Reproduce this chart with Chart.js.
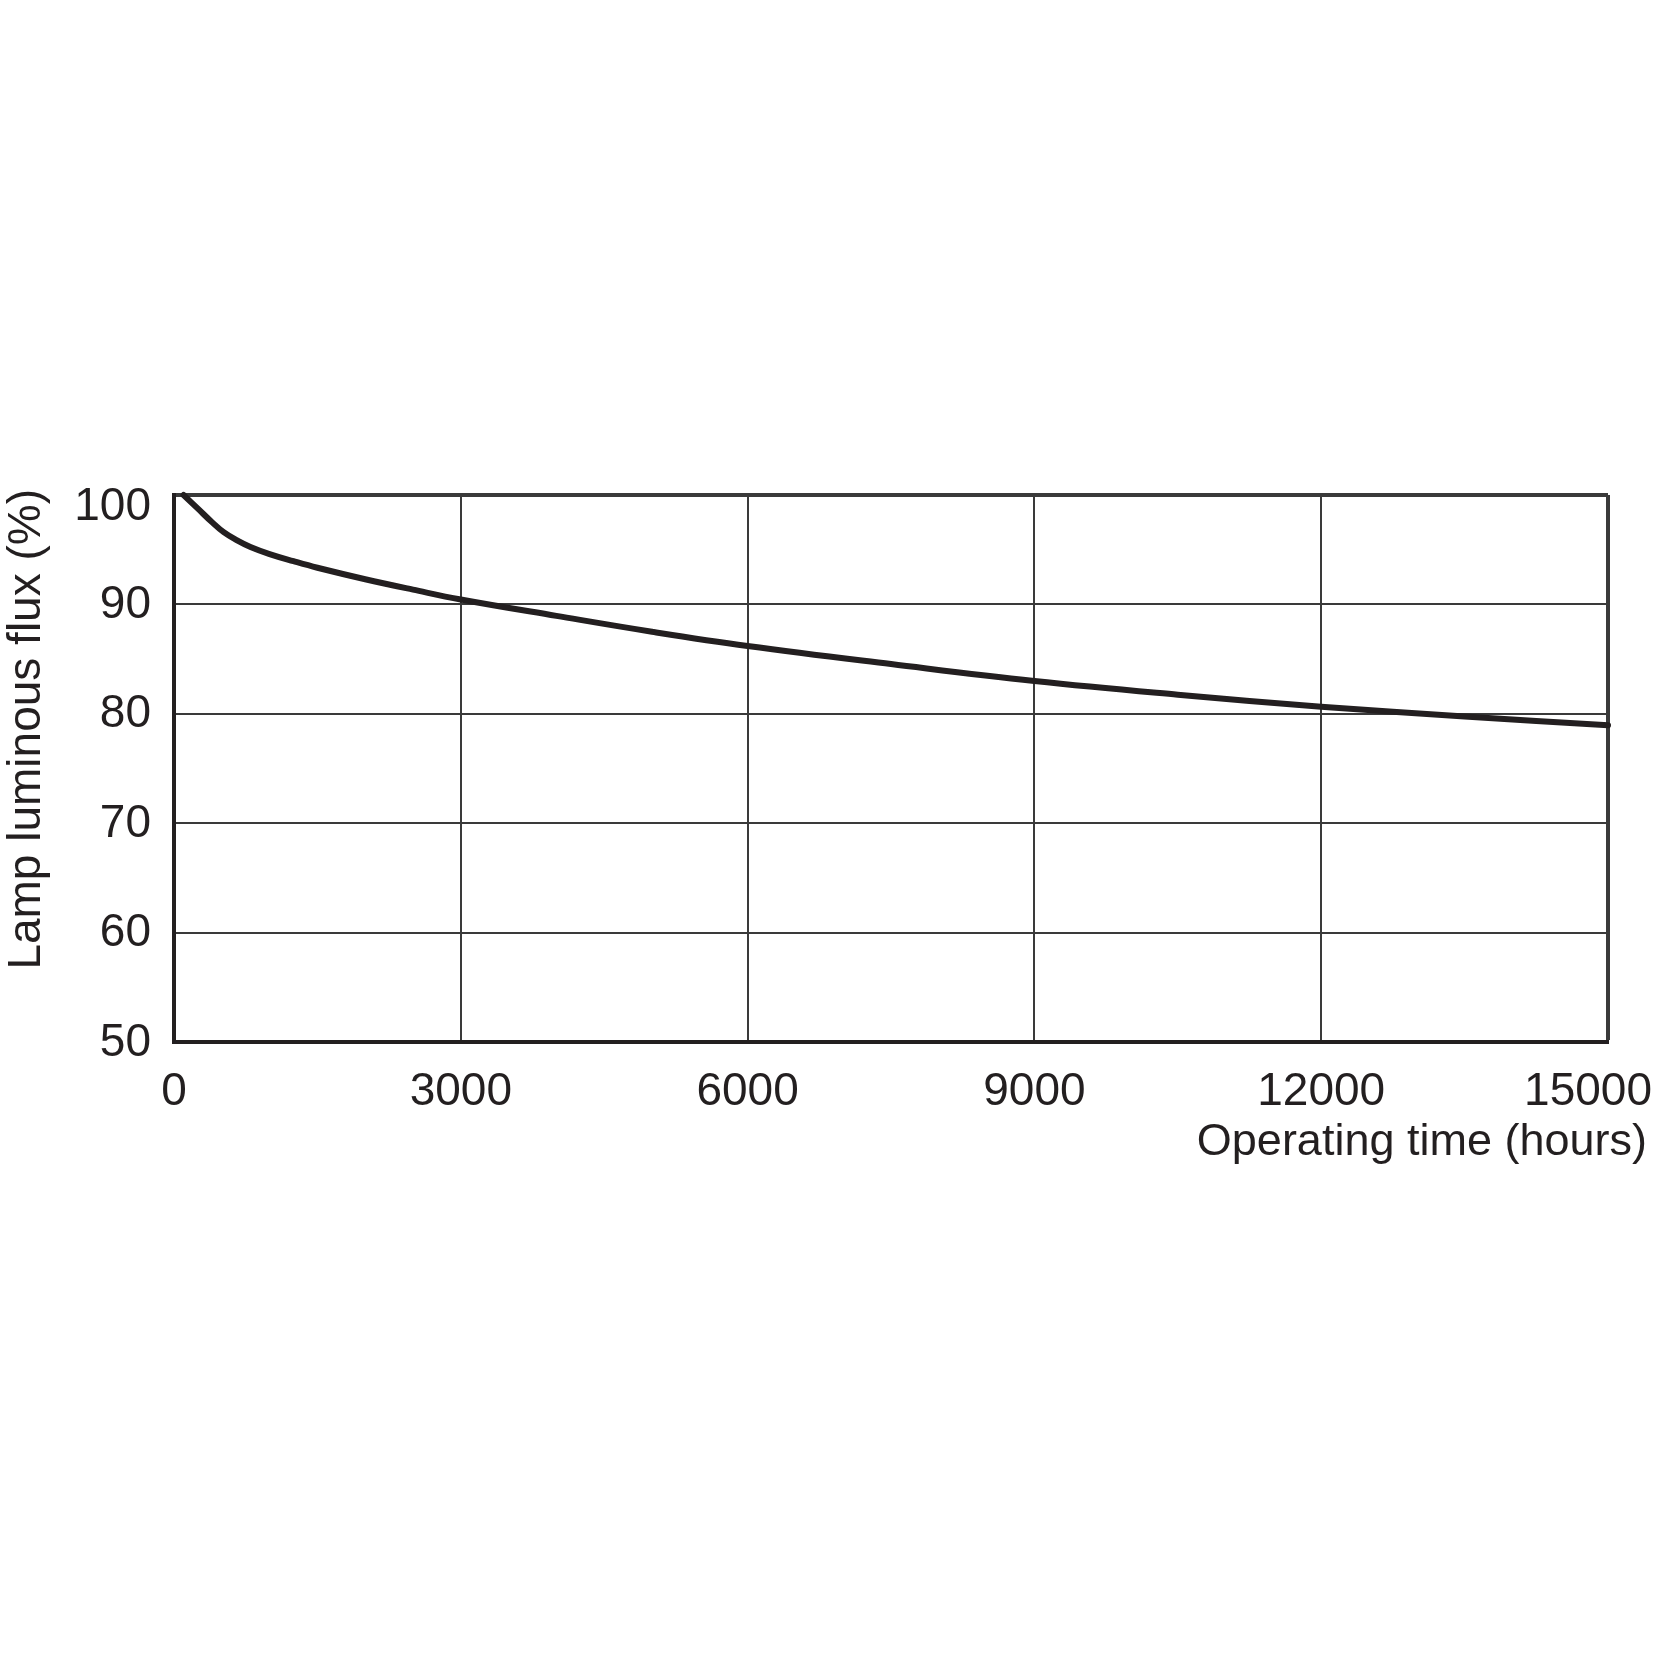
<!DOCTYPE html>
<html><head><meta charset="utf-8">
<script src="https://cdn.jsdelivr.net/npm/chart.js@4.4.1/dist/chart.umd.min.js"></script>
<style>html,body{margin:0;padding:0;background:#fff;} canvas{display:block;}</style>
</head><body>
<canvas id="c" width="1656" height="1656"></canvas>
<script>
// ---- data ----
const hours = [100, 250, 400, 520, 650, 800, 1000, 1250, 1500, 2000, 2500, 3000, 4000, 5000, 6000, 7500, 9000, 10500, 12000, 13500, 15000];
const flux  = [100, 98.75, 97.5, 96.6, 95.9, 95.25, 94.6, 93.95, 93.35, 92.3, 91.35, 90.45, 88.95, 87.5, 86.2, 84.55, 83.0, 81.75, 80.65, 79.75, 78.95];
const xTicks = [0, 3000, 6000, 9000, 12000, 15000];
const yTicks = [50, 60, 70, 80, 90, 100];
const xTitle = 'Operating time (hours)';
const yTitle = 'Lamp luminous flux (%)';

const TEXT = '#231f20';
const GRID = '#3a3a3a';
const FONT = '"Liberation Sans", Arial, Helvetica, sans-serif';

const labelPlugin = {
  id: 'axisLabels',
  afterDraw(chart) {
    const {ctx, chartArea} = chart;
    const x = chart.scales.x, y = chart.scales.y;
    ctx.save();
    ctx.fillStyle = TEXT;
    ctx.font = '46px ' + FONT;
    // x tick labels
    ctx.textBaseline = 'alphabetic';
    ctx.textAlign = 'left';
    xTicks.forEach(v => {
      const label = String(v);
      const w = ctx.measureText(label).width;
      let left = x.getPixelForValue(v) - w / 2;
      left = Math.min(left, chart.width - 4 - w);
      ctx.fillText(label, left, chartArea.bottom + 63);
    });
    // y tick labels
    ctx.textAlign = 'right';
    ctx.textBaseline = 'middle';
    yTicks.forEach(v => {
      const cy = Math.max(y.getPixelForValue(v) + 1, chartArea.top + 12);
      ctx.fillText(String(v), chartArea.left - 23, cy);
    });
    // x title
    ctx.textBaseline = 'alphabetic';
    ctx.font = '45px ' + FONT;
    ctx.fillText(xTitle, chart.width - 9, chartArea.bottom + 113);
    // y title (rotated, ending just above the plot top)
    ctx.font = '46px ' + FONT;
    ctx.translate(27, chartArea.top - 6);
    ctx.rotate(-Math.PI / 2);
    ctx.textAlign = 'right';
    ctx.textBaseline = 'middle';
    ctx.fillText(yTitle, 0, 0);
    ctx.restore();
  }
};

new Chart(document.getElementById('c'), {
  type: 'line',
  data: {
    datasets: [{
      data: hours.map((h, i) => ({x: h, y: flux[i]})),
      borderColor: TEXT,
      borderWidth: 6,
      pointRadius: 0,
      fill: false,
      tension: 0.4,
      borderCapStyle: 'round',
      borderJoinStyle: 'round',
      clip: 6
    }]
  },
  options: {
    responsive: false,
    animation: false,
    layout: {padding: {top: 495, right: 48, bottom: 514, left: 0}},
    plugins: {legend: {display: false}, tooltip: {enabled: false}},
    scales: {
      x: {
        type: 'linear', min: 0, max: 15000,
        afterBuildTicks: s => { s.ticks = xTicks.map(v => ({value: v})); },
        afterFit: s => { s.height = 100; s.paddingLeft = 0; s.paddingRight = 0; },
        ticks: {display: false},
        grid: {
          color: GRID, drawTicks: false,
          lineWidth: c => (c.tick && c.tick.value === 15000) ? 4 : 2
        },
        border: {display: true, color: TEXT, width: 4}
      },
      y: {
        type: 'linear', min: 50, max: 100,
        afterBuildTicks: s => { s.ticks = yTicks.map(v => ({value: v})); },
        afterFit: s => { s.width = 174; s.paddingTop = 0; s.paddingBottom = 0; },
        ticks: {display: false},
        grid: {
          color: GRID, drawTicks: false,
          lineWidth: c => (c.tick && c.tick.value === 100) ? 4 : 2
        },
        border: {display: true, color: TEXT, width: 4},
        title: {display: false, text: yTitle}
      }
    }
  },
  plugins: [labelPlugin]
});
</script>
</body></html>
